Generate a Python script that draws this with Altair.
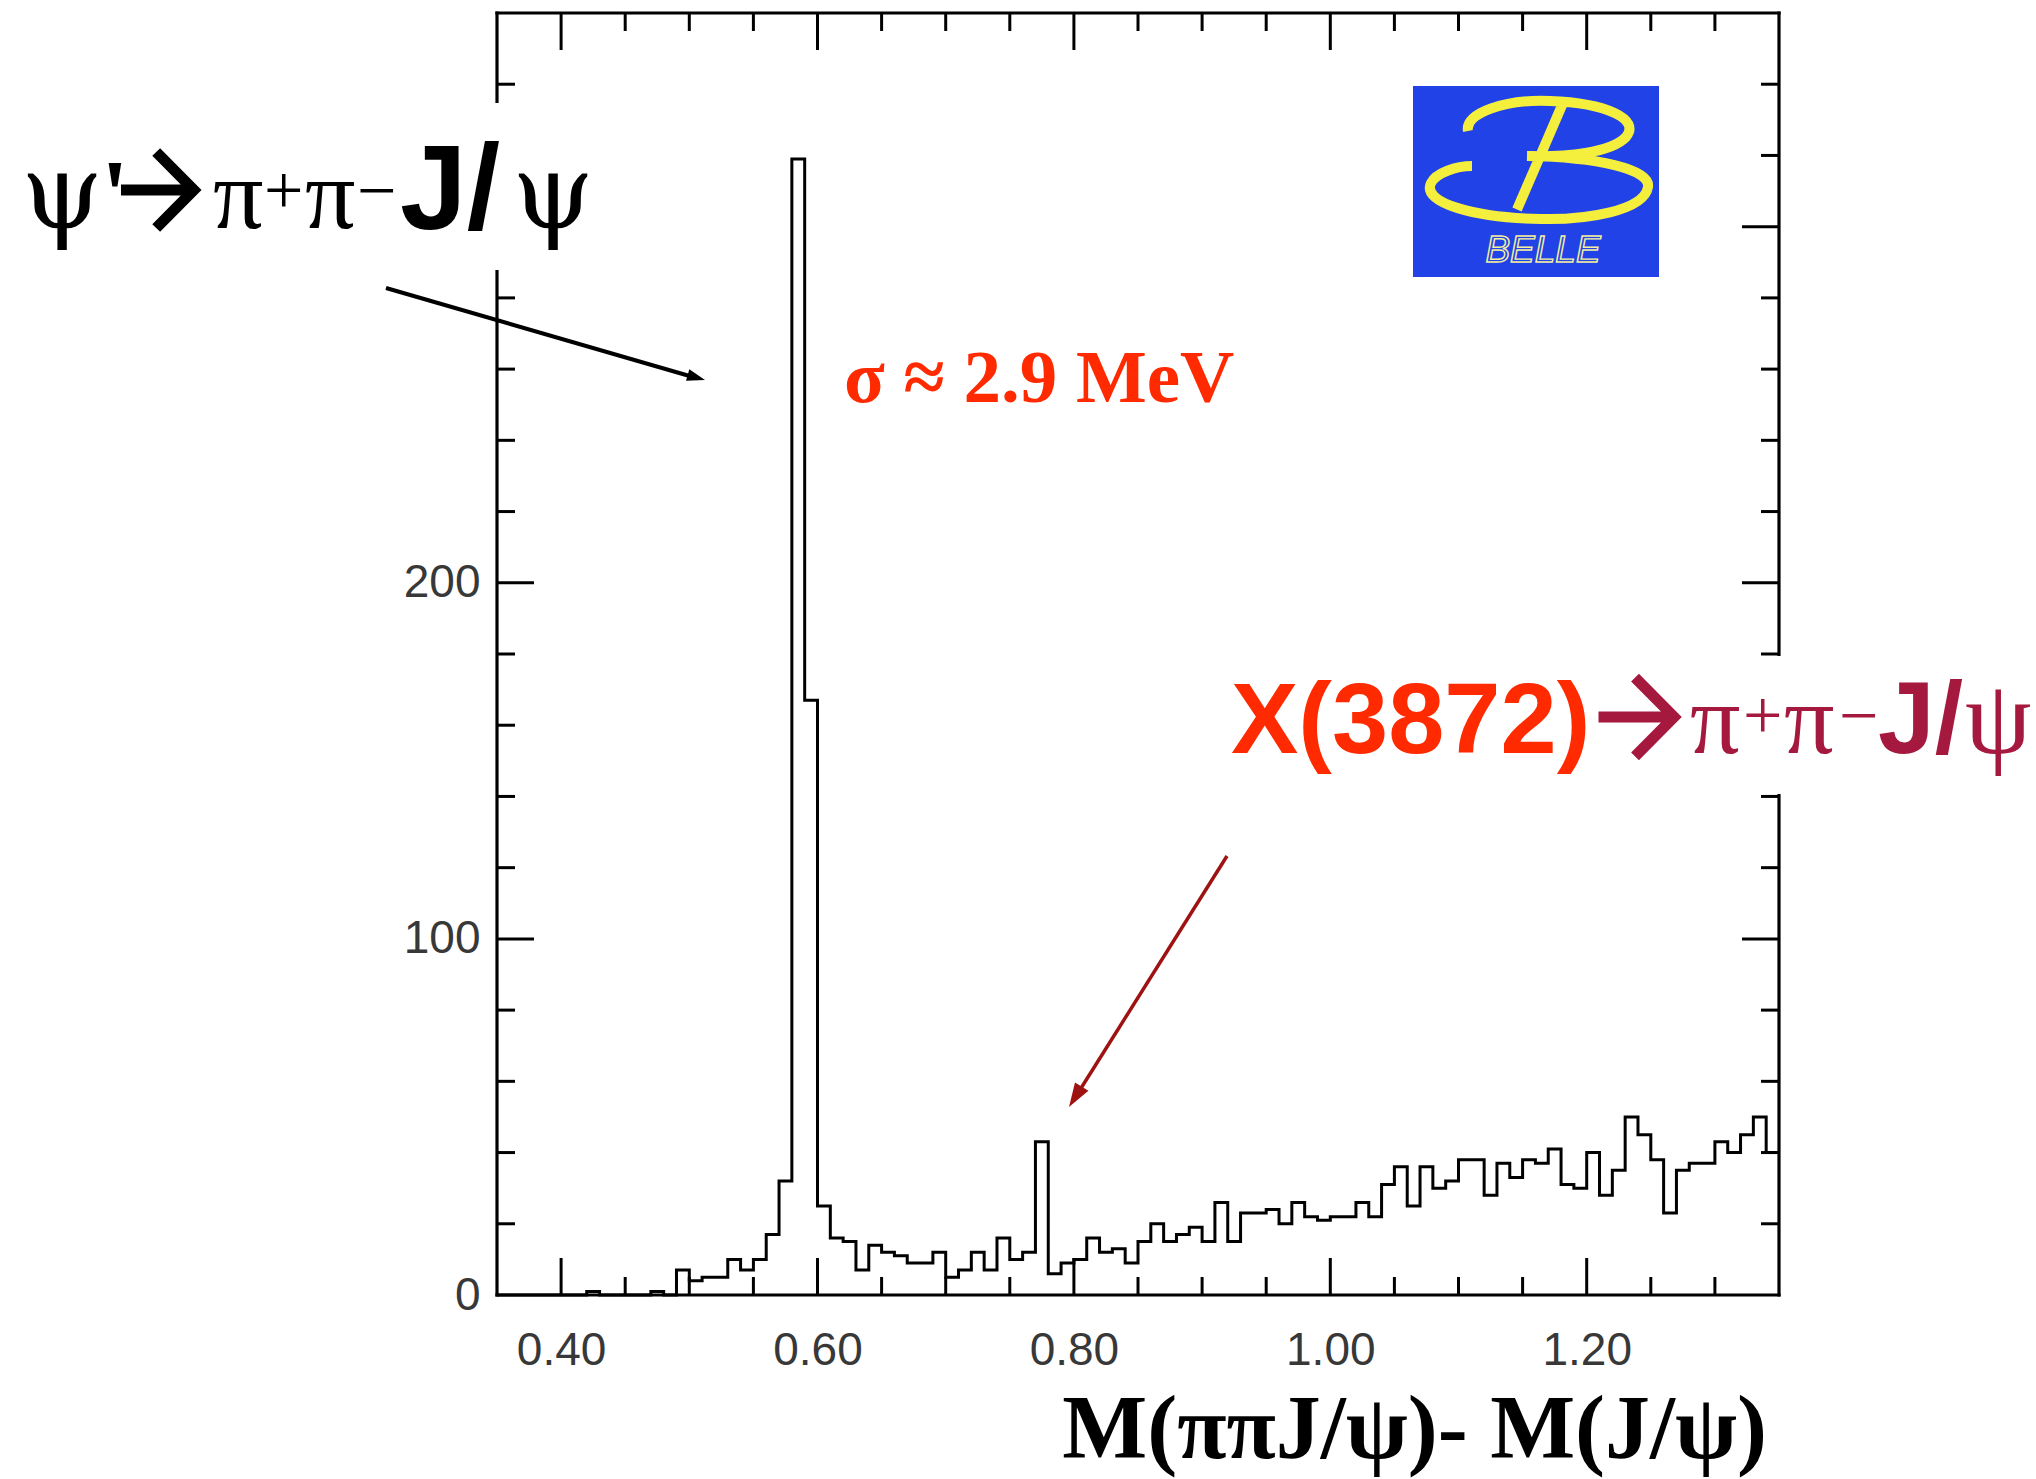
import altair as alt
import pandas as pd

# ---------------- data ----------------
counts = [0, 0, 0, 0, 0, 0, 0, 1, 0, 0,
          0, 0, 1, 0, 7, 4, 5, 5, 10, 7,
          10, 17, 32, 319, 167, 25, 16, 15, 7, 14,
          12, 11, 9, 9, 12, 5, 7, 12, 7, 16,
          10, 12, 43, 6, 9, 10, 16, 12, 13, 9,
          15, 20, 15, 17, 19, 15, 26, 15, 23, 23,
          24, 20, 26, 22, 21, 22, 22, 26, 22, 31,
          36, 25, 36, 30, 32, 38, 38, 28, 37, 33,
          38, 37, 41, 31, 30, 40, 28, 35, 50, 45,
          38, 23, 35, 37, 37, 43, 40, 45, 50, 40]
x_start = 0.35
bin_width = 0.01
edges = [round(x_start + bin_width * i, 2) for i in range(len(counts) + 1)]

x_major = [0.40, 0.60, 0.80, 1.00, 1.20]
x_minor = [0.45, 0.50, 0.55, 0.65, 0.70, 0.75, 0.85, 0.90, 0.95,
           1.05, 1.10, 1.15, 1.25, 1.30]
y_major = [100, 200, 300]
y_minor = [20, 40, 60, 80, 120, 140, 160, 180, 220, 240, 260, 280, 320, 340]
y_labels = [0, 100, 200]
x_domain = [0.35, 1.35]
y_domain = [0, 360]

# ---------------- layout ----------------
W = H = 1282
MAJ, MIN = 37, 18
RED = "#ff2a00"
CRIMSON = "#a6193f"
DARKRED = "#9e1212"
ONE = alt.Data(values=[{"a": 1}])

xs = alt.Scale(domain=x_domain, nice=False, zero=False)
ys = alt.Scale(domain=y_domain, nice=False, zero=False)

hist_df = pd.DataFrame({"edge": edges, "count": counts + [counts[-1]]})

xaxis = alt.Axis(values=x_major, format=".2f", title=None, domain=False, ticks=False,
                 tickSize=0, grid=False, labelFont="Liberation Sans", labelFontSize=46,
                 labelColor="#383838", labelPadding=33, labelFlush=False)
yaxis = alt.Axis(values=y_labels, format="d", title=None, domain=False, ticks=False,
                 tickSize=0, grid=False, labelFont="Liberation Sans", labelFontSize=46,
                 labelColor="#383838", labelPadding=17)

hist = alt.Chart(hist_df).mark_line(interpolate="step-after", color="black",
                                    strokeWidth=3).encode(
    x=alt.X("edge:Q", scale=xs, axis=xaxis, title=None),
    y=alt.Y("count:Q", scale=ys, axis=yaxis, title=None),
)


def frame(**enc):
    return alt.Chart(ONE).mark_rule(color="black", strokeWidth=3.2, strokeCap="square").encode(**enc)


frames = [
    frame(x=alt.value(0), x2=alt.value(W), y=alt.value(H)),
    frame(x=alt.value(0), x2=alt.value(W), y=alt.value(0)),
    frame(x=alt.value(0), y=alt.value(0), y2=alt.value(H)),
    frame(x=alt.value(W), y=alt.value(0), y2=alt.value(H)),
]


def xticks(vals, top, length):
    y0, y1 = (0, length) if top else (H, H - length)
    return alt.Chart(pd.DataFrame({"edge": vals})).mark_rule(color="black", strokeWidth=3).encode(
        x=alt.X("edge:Q", scale=xs, axis=xaxis, title=None), y=alt.value(y0), y2=alt.value(y1))


def yticks(vals, right, length):
    x0, x1 = (W, W - length) if right else (0, length)
    return alt.Chart(pd.DataFrame({"count": vals})).mark_rule(color="black", strokeWidth=3).encode(
        y=alt.Y("count:Q", scale=ys, axis=yaxis, title=None), x=alt.value(x0), x2=alt.value(x1))


ticks = [xticks(x_major, False, MAJ), xticks(x_minor, False, MIN),
         xticks(x_major, True, MAJ), xticks(x_minor, True, MIN),
         yticks(y_major, False, MAJ), yticks(y_minor, False, MIN),
         yticks(y_major, True, MAJ), yticks(y_minor, True, MIN)]


def box(x0, x1, y0, y1, color="white"):
    return alt.Chart(ONE).mark_rect(color=color, opacity=1).encode(
        x=alt.value(x0), x2=alt.value(x1), y=alt.value(y0), y2=alt.value(y1))


def txt(s, x, y, size, font="Liberation Serif", color="black", weight="normal",
        style="normal", align="left", **kw):
    return alt.Chart(alt.Data(values=[{"t": s}])).mark_text(
        align=align, baseline="alphabetic", font=font, fontSize=size, fontWeight=weight,
        fontStyle=style, color=color, **kw).encode(
        x=alt.value(x), y=alt.value(y), text="t:N")


def sym(path, x, y, size, color, stroke_width=None, filled=False, angle=0):
    kw = dict(shape=path, size=size, filled=filled, color=color, opacity=1, angle=angle)
    if not filled:
        kw.update(strokeWidth=stroke_width, strokeCap="butt", strokeJoin="miter")
    return alt.Chart(ONE).mark_point(**kw).encode(x=alt.value(x), y=alt.value(y))


def seg(x0, y0, x1, y1, color, w):
    return alt.Chart(ONE).mark_rule(color=color, strokeWidth=w, strokeCap="butt").encode(
        x=alt.value(x0), y=alt.value(y0), x2=alt.value(x1), y2=alt.value(y1))


ARROW = "M-1,0L0.74,0M-0.12,-0.95L0.82,0L-0.12,0.95"
HEAD = "M0,0L-1,-0.33L-1,0.33Z"

boxes = [box(-497, 95, 90, 257), box(723, 1539, 643, 781)]

psi_label = [
    txt("ψ", -435, 215, 104, font="DejaVu Serif", align="center"),
    txt("'", -396, 215, 100, weight="bold"),
    sym(ARROW, -336, 177, 6400, "black", stroke_width=11),
    txt("π", -284, 215, 100),
    txt("+", -233, 201, 70),
    txt("π", -192, 215, 100),
    txt("−", -140, 201, 70),
    txt("J/", -97, 216, 120, font="Liberation Sans", weight="bold"),
    txt("ψ", 56, 215, 104, font="DejaVu Serif", align="center"),
]

x_label = [
    txt("X(3872)", 734, 740, 101, font="Liberation Sans", weight="bold", color=RED),
    sym(ARROW, 1143, 704, 6889, CRIMSON, stroke_width=11),
    txt("π", 1193, 740, 100, color=CRIMSON),
    txt("+", 1246, 726, 70, color=CRIMSON),
    txt("π", 1287, 740, 100, color=CRIMSON),
    txt("−", 1342, 726, 70, color=CRIMSON),
    txt("J/", 1381, 740, 102, font="Liberation Sans", weight="bold", color=CRIMSON),
    txt("ψ", 1468, 740, 106, color=CRIMSON),
]

sigma = txt("σ ≈ 2.9 MeV", 347, 389, 75, weight="bold", color=RED)

arrows = [
    seg(-111, 275, 196, 364, "black", 4),
    sym(HEAD, 208, 367, 1296, "black", filled=True, angle=16),
    seg(730, 843, 581, 1080, DARKRED, 3.5),
    sym(HEAD, 572, 1094, 2304, DARKRED, filled=True, angle=122),
]

xtitle = txt("M(ππJ/ψ)- M(J/ψ)", 1270, 1445, 90, weight="bold", align="right")

B_PATH = ("M-0.68,-0.50 C-0.72,-0.68 -0.30,-0.82 0.14,-0.80 "
          "C0.70,-0.78 1.05,-0.62 0.90,-0.44 C0.75,-0.28 0.30,-0.24 -0.09,-0.25 "
          "C0.60,-0.24 1.15,-0.12 1.12,0.06 C1.08,0.30 0.50,0.39 0.05,0.38 "
          "C-0.60,0.37 -1.15,0.22 -1.05,0.02 C-1.00,-0.08 -0.80,-0.15 -0.64,-0.15 "
          "M0.27,-0.78 L-0.19,0.285")

logo = [
    box(916, 1162, 73, 264, color="#2142e6"),
    sym(B_PATH, 1039, 168, 40000, "#f4ee3c", stroke_width=10),
    alt.Chart(alt.Data(values=[{"t": "BELLE"}])).mark_text(
        align="center", baseline="alphabetic", font="Liberation Sans", fontSize=37,
        fontStyle="italic", fill="#2142e6", stroke="#f4f0a0", strokeWidth=1.4).encode(
        x=alt.value(1046), y=alt.value(249), text="t:N"),
]

layers = [hist] + frames + ticks + boxes + psi_label + x_label + [sigma] + arrows + [xtitle] + logo

chart = alt.layer(*layers).properties(
    width=W, height=H,
    autosize=alt.AutoSizeParams(type="none"),
    padding={"left": 497, "top": 13, "right": 257, "bottom": 184},
    background="white",
).configure_view(strokeWidth=0)

chart.save("out.html", embed_options={"renderer": "svg", "actions": False})
